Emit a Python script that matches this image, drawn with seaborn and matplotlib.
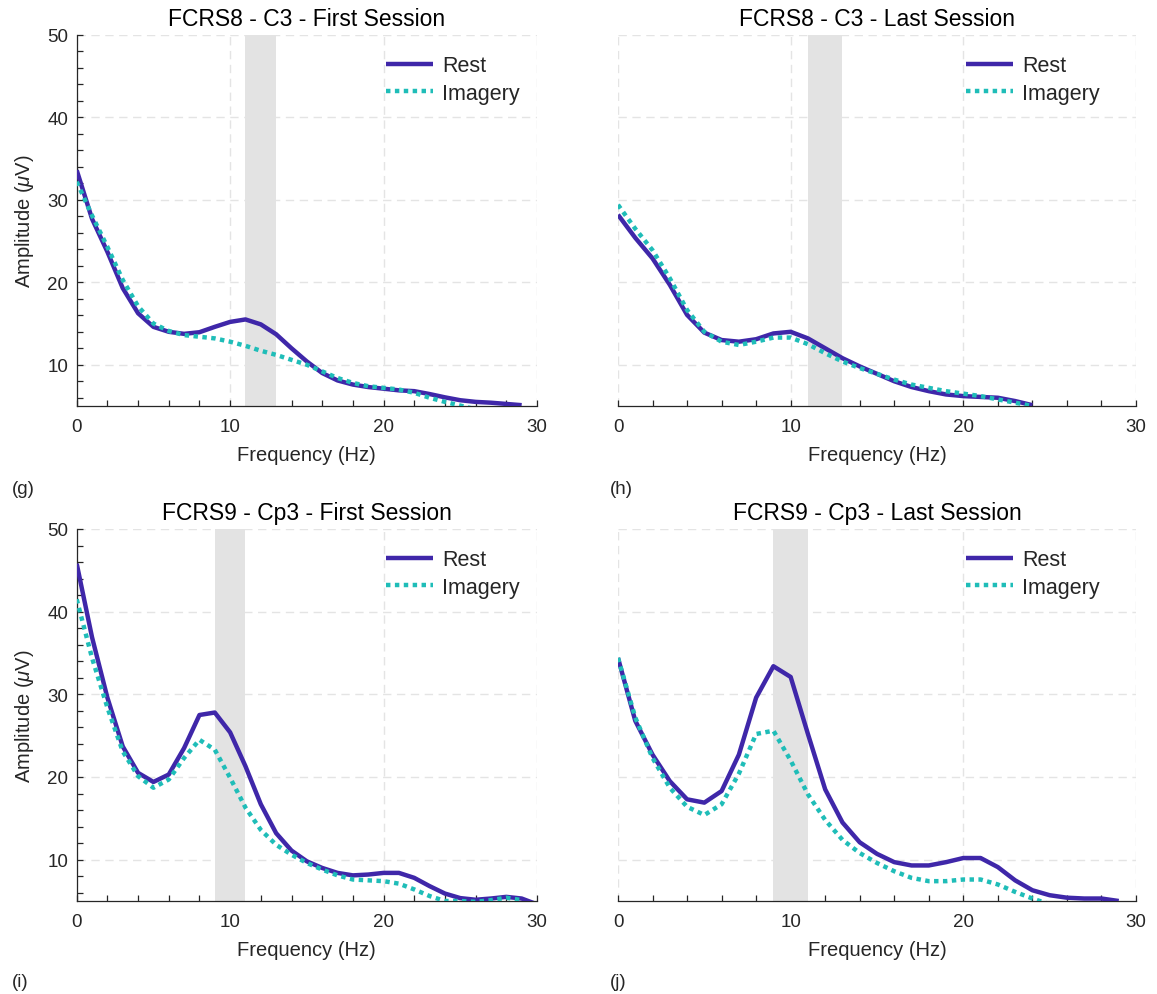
import numpy as np
import pandas as pd
import matplotlib
matplotlib.use("Agg")
import matplotlib.pyplot as plt
import seaborn as sns
from matplotlib.lines import Line2D
from matplotlib.ticker import MultipleLocator

# ---------------- data ----------------
freq_g_rest = list(range(0, 30))
rest_g = [33.6, 27.7, 23.7, 19.3, 16.25, 14.6, 14.0, 13.75, 13.95, 14.6,
          15.2, 15.5, 14.9, 13.7, 12.0, 10.4, 9.0, 8.1, 7.6, 7.3,
          7.1, 6.9, 6.8, 6.45, 6.05, 5.7, 5.5, 5.4, 5.25, 5.1]
freq_g_imag = list(range(0, 27))
imag_g = [32.2, 28.1, 24.3, 20.3, 17.1, 15.0, 14.1, 13.6, 13.4, 13.2,
          12.8, 12.3, 11.7, 11.2, 10.6, 10.0, 9.2, 8.4, 7.8, 7.4,
          7.2, 7.0, 6.6, 6.0, 5.5, 5.05, 4.6]

freq_h_rest = list(range(0, 25))
rest_h = [28.2, 25.4, 22.9, 19.7, 16.05, 13.9, 13.0, 12.8, 13.1, 13.8,
          14.0, 13.2, 12.0, 10.8, 9.8, 8.9, 8.0, 7.3, 6.8, 6.4,
          6.2, 6.1, 6.0, 5.6, 5.1]
freq_h_imag = list(range(0, 25))
imag_h = [29.4, 26.5, 23.9, 20.5, 16.65, 14.0, 12.8, 12.4, 12.8, 13.3,
          13.3, 12.5, 11.4, 10.4, 9.6, 8.9, 8.2, 7.6, 7.2, 6.8,
          6.5, 6.2, 5.8, 5.4, 5.0]

freq_i_rest = list(range(0, 31))
rest_i = [45.8, 36.9, 29.6, 23.7, 20.5, 19.4, 20.3, 23.5, 27.5, 27.8,
          25.4, 21.3, 16.7, 13.2, 11.1, 9.8, 9.0, 8.4, 8.1, 8.2,
          8.4, 8.4, 7.8, 6.8, 5.9, 5.35, 5.15, 5.3, 5.5, 5.3, 4.6]
freq_i_imag = list(range(0, 30))
imag_i = [41.5, 34.4, 28.4, 23.1, 20.1, 18.7, 19.7, 22.3, 24.5, 23.3,
          19.9, 16.3, 13.6, 11.8, 10.6, 9.6, 8.8, 8.1, 7.6, 7.5,
          7.4, 7.1, 6.4, 5.6, 5.0, 5.0, 4.9, 5.1, 5.4, 5.1]

freq_j_rest = list(range(0, 30))
rest_j = [34.4, 26.8, 22.7, 19.5, 17.3, 16.9, 18.3, 22.7, 29.6, 33.4,
          32.1, 25.2, 18.5, 14.5, 12.1, 10.7, 9.7, 9.3, 9.3, 9.7,
          10.2, 10.2, 9.1, 7.5, 6.3, 5.7, 5.4, 5.3, 5.3, 5.0]
freq_j_imag = list(range(0, 26))
imag_j = [34.4, 27.2, 22.3, 18.7, 16.4, 15.4, 16.7, 20.4, 25.2, 25.6,
          22.0, 17.9, 14.8, 12.4, 10.8, 9.6, 8.6, 7.8, 7.4, 7.4,
          7.6, 7.6, 7.0, 6.1, 5.3, 4.6]

titles = ["FCRS8 - C3 - First Session", "FCRS8 - C3 - Last Session",
          "FCRS9 - Cp3 - First Session", "FCRS9 - Cp3 - Last Session"]
panel_tags = ["(g)", "(h)", "(i)", "(j)"]
bands = [(11, 13), (11, 13), (9, 11), (9, 11)]
conditions = ["Rest", "Imagery"]

# ---------------- style ----------------
sns.set_theme(style="white")
plt.rcParams['font.family'] = ['Liberation Sans', 'DejaVu Sans']
plt.rcParams['mathtext.fontset'] = 'custom'
plt.rcParams['mathtext.rm'] = 'Liberation Sans'
plt.rcParams['mathtext.it'] = 'Liberation Sans:italic'

REST_C = "#3F27A9"
IMAG_C = "#1FBDB8"
TXT_C = "#262626"
GRID_C = "#E4E4E4"
LW = 3.2

W, H = 1157, 995
fig = plt.figure(figsize=(W / 100, H / 100), dpi=100)

def px_axes(x0, x1, y0, y1):
    return fig.add_axes([x0 / W, 1 - y1 / H, (x1 - x0) / W, (y1 - y0) / H])

rects = [(76.7, 537, 36, 407), (618, 1136, 36, 407),
         (76.7, 537, 530, 902), (618, 1136, 530, 902)]
tag_pos = [(12, 490), (610, 490), (12, 983), (610, 983)]

series = [
    (freq_g_rest, rest_g, freq_g_imag, imag_g),
    (freq_h_rest, rest_h, freq_h_imag, imag_h),
    (freq_i_rest, rest_i, freq_i_imag, imag_i),
    (freq_j_rest, rest_j, freq_j_imag, imag_j),
]

for k in range(4):
    fr, r, fi, im = series[k]
    df = pd.DataFrame({
        "Frequency": list(fr) + list(fi),
        "Amplitude": list(r) + list(im),
        "Condition": ["Rest"] * len(fr) + ["Imagery"] * len(fi),
    })
    ax = px_axes(*rects[k])
    left = (k % 2 == 0)

    ax.set_xlim(0, 30)
    ax.set_ylim(5, 50)
    ax.set_axisbelow(True)
    ax.grid(True, which="major", color=GRID_C, linestyle=(0, (6, 4)), linewidth=1.0)
    ax.axvspan(bands[k][0], bands[k][1], color="#E3E3E3", lw=0, zorder=1)

    sns.lineplot(data=df, x="Frequency", y="Amplitude", hue="Condition",
                 style="Condition", hue_order=conditions, style_order=conditions,
                 palette={"Rest": REST_C, "Imagery": IMAG_C},
                 dashes={"Rest": "", "Imagery": (1, 1)},
                 linewidth=LW, legend=False, ax=ax, zorder=3)
    for ln in ax.lines:
        ln.set_solid_capstyle("butt")
        ln.set_dash_capstyle("butt")

    for s in ["top", "right"]:
        ax.spines[s].set_visible(False)
    ax.spines["bottom"].set_color(TXT_C)
    ax.spines["bottom"].set_linewidth(0.9)
    ax.spines["left"].set_color(TXT_C)
    ax.spines["left"].set_linewidth(0.9)
    ax.spines["left"].set_visible(left)

    ax.xaxis.set_major_locator(MultipleLocator(10))
    ax.xaxis.set_minor_locator(MultipleLocator(2))
    ax.yaxis.set_major_locator(MultipleLocator(10))
    ax.yaxis.set_minor_locator(MultipleLocator(2))
    ax.tick_params(axis="x", which="both", direction="in", length=4, width=0.9,
                   color=TXT_C, labelsize=13.5, labelcolor=TXT_C, pad=9,
                   bottom=True)
    if left:
        ax.tick_params(axis="y", which="both", direction="in", length=4, width=0.9,
                       color=TXT_C, labelsize=13.5, labelcolor=TXT_C, pad=6,
                       left=True)
        ax.set_ylabel(r"Amplitude ($\mu$V)", fontsize=14.5, color=TXT_C, labelpad=8)
    else:
        ax.tick_params(axis="y", which="both", left=False, labelleft=False)
        ax.set_ylabel("")

    ax.set_xlabel("Frequency (Hz)", fontsize=14.5, color=TXT_C, labelpad=7)
    ax.set_title(titles[k], fontsize=16.5, color="black", pad=7)

    handles = [Line2D([], [], color=REST_C, lw=LW, solid_capstyle="butt"),
               Line2D([], [], color=IMAG_C, lw=LW, dashes=(1, 1), dash_capstyle="butt")]
    ax.legend(handles, conditions, loc="upper left", bbox_to_anchor=(0.672, 0.945),
              frameon=False, fontsize=15.5, handlelength=2.2, handletextpad=0.4,
              labelspacing=0.3, borderpad=0, borderaxespad=0)

    fig.text(tag_pos[k][0] / W, 1 - tag_pos[k][1] / H, panel_tags[k],
             fontsize=13.5, color=TXT_C, ha="left", va="center")

fig.savefig("out.png", dpi=100)
